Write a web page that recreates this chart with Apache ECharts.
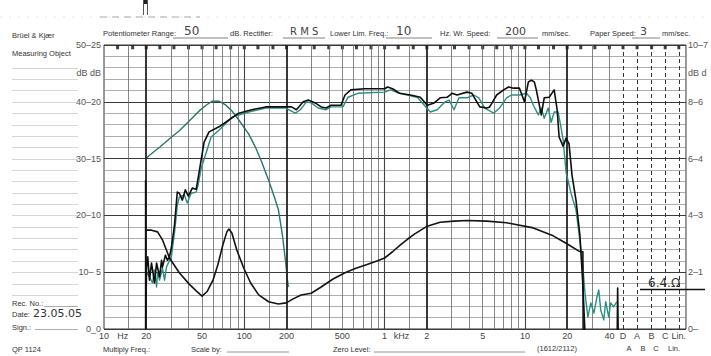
<!DOCTYPE html>
<html><head><meta charset="utf-8">
<script src="https://cdn.jsdelivr.net/npm/echarts@6/dist/echarts.min.js"></script>
<style>html,body{margin:0;padding:0;background:#fff;}#c{width:711px;height:356px;}</style>
</head><body><div id="c"></div>
<script>
// ---------- data (frequency in Hz, level in dB) ----------
const responseBlackHz = [19.8,19.8,20.1,20.5,21.1,21.8,22.2,22.9,23.7,24.9,25.7,26.1,27.4,28.3,29.3,30.2,31.8,33.3,34.4,36.2,38.0,39.9,42.6,45.4,46.9,49.3,51.7,56.1,66,77.7,91.4,113,142,197,217,235,263,286,320,353,383,415,489,522,575,722,1000,1050,1139,1276,1527,1797,2013,2257,2488,2787,3025,3281,3861,4187,4542,4770,5346,5610,6291,7047,7645,8293,9142,9920,10590,11120,11670,12060,13080,13730,14890,16160,16970,17530,18710,19650,20630,21660,23120,24660,25900,26770,33600,45500,45800,46200];
const responseBlackDb = [26.2,0,10.9,12.7,8.6,11.6,10.4,8.1,11.6,9.2,12.1,10.9,13.0,12.1,12.7,14.3,18.3,24.1,23.9,22.7,24.5,23.4,24.8,24.6,26.6,29.8,32.9,34.7,35.6,36.8,38.0,38.6,39.1,39.1,39.1,38.6,40.0,40.3,39.8,39.1,38.9,39.4,39.4,41.2,42.1,42.3,42.3,42.6,42.3,41.5,41.2,40.8,39.4,39.8,40.7,40.8,41.5,41.2,41.7,41.5,40.0,39.1,38.9,39.1,41.2,42.1,42.6,42.4,42.4,40.0,43.5,43.8,43.5,42.1,37.7,40.7,40.8,42.1,38.6,33.8,32.2,33.6,32.6,27.1,22.7,16.5,7.7,-0.5,-0.5,-0.5,7.2,-0.5];

const responseTealHz = [20.1,21.1,22.2,22.9,23.7,24.1,24.9,26.1,27.0,27.9,29.3,30.2,31.8,33.3,34.4,37.4,39.2,41.8,45.4,46.9,49.3,53.4,58.0,66.0,81.6,107.6,142,197,231,251,277,300,336,383,415,505,548,645,1000,1103,1276,1711,2115,2370,2700,2880,3124,3390,3861,4325,4690,5175,5985,6606,7400,8027,9142,10250,10940,11480,12460,13080,13730,14660,15390,16160,17250,18110,18710,19650,21320,22010,23120,24270,25900,26770,28100,29510,31000,32540,33610,34730,36470,37670,39550,40850,42900,45060];
const responseTealDb = [9.9,9.2,8.1,10.4,7.4,9.9,8.6,10.7,8.6,10.9,12.1,12.7,16.9,21.8,23.2,23.6,22.2,23.9,24.1,25.4,28.3,31.0,33.8,35.0,37.3,38.2,38.9,38.9,38.0,38.6,40.0,39.8,38.9,38.6,39.1,39.1,40.8,41.5,41.7,42.1,41.5,40.8,38.2,38.6,40.0,40.3,38.6,40.7,40.7,41.2,40.7,38.9,38.0,38.9,40.7,41.2,41.2,41.5,40.7,39.4,37.7,38.9,37.1,38.9,36.4,38.2,38.2,35.4,33.3,27.6,23.9,22.7,21.0,16.9,10.9,6.5,2.1,4.6,2.8,5.5,6.9,3.3,1.6,4.8,2.1,4.6,3.9,4.8];

const bassTealHz = [20.1,21.1,24.9,29.3,34.4,40.5,47.7,53.4,58.9,66.0,74.0,81.6,91.4,107.6,120.6,133,149,164,175,187,197,203,206];
const bassTealDb = [30.1,30.6,32.0,33.5,34.9,36.6,38.4,39.4,40.1,40.1,39.4,38.4,36.8,34.3,31.9,29.4,26.2,23.2,21.0,16.5,11.8,8.6,7.4];

const impedanceHz = [19.8,21.8,24.1,26.1,29.3,34.4,40.5,45.4,50,54.3,59.8,64.8,70.3,75.1,77.7,81.5,88.4,99.2,111,126.6,149,175,199,223,254,300,353,429,522,624,759,892,1000,1139,1297,1454,1630,2013,2488,3124,3861,5346,7400,11480,15900,19650,24270,25900,26000,33600];
const impedanceDb = [17.4,17.4,17.1,15.7,12.5,9.9,7.9,6.7,5.8,6.6,8.6,11.3,14.8,17.1,17.6,16.9,13.9,10.7,8.1,6.0,4.8,4.4,4.6,5.3,6.0,6.3,7.4,8.8,9.9,10.7,11.4,12.0,12.5,13.6,14.8,15.8,16.7,18.1,18.8,19.0,19.1,19.0,18.7,17.8,16.4,15.1,13.7,13.6,-0.5,-0.5];

// ---------- paper / axis furniture ----------
const thirdOctaveHz = [12.5,16,20,25,31.5,40,50,63,80,100,125,160,200,250,315,400,500,630,800,1000,1250,1600,2000,2500,3150,4000,5000,6300,8000,10000,12500,16000,20000,25000,31500,40000,50000,63000,80000,100000,125000];
const lightGridHz = [15,30,40,50,60,70,80,90,150,300,400,500,600,700,800,900,1500,3000,4000,5000,6000,7000,8000,9000,15000,30000,40000];
const mediumGridHz = [100,1000,10000];
const heavyGridHz = [20,200,2000,20000];
const weightingGridHz = [50000,63000,80000,100000,125000];
const freqTickHz = [10,13.6,20,50,100,200,500,1000,1320,2000,5000,10000,20000,40000,50000,63000,80000,100000,125000];
const freqTickText = ['10','Hz','20','50','100','200','500','1','kHz','2','5','10','20','40','D','A','B','C','Lin.'];
const levelTickDb = [0,10,20,30,40,45,50];
const leftTickText = ['0_0','10– 5','20–10','30–15','40–20','dB dB','50–25'];
const rightTickText = ['0–','2–1','4–3','6–4','8–6','dB d','10–7'];
const formLineDb = [6,8,10,12,14,16,18,20,22,24,26,28,30,32,34,36,38,40,42,44,46];

const FONT = '"Liberation Sans", Arial, sans-serif';
const HAND = '"DejaVu Sans", sans-serif';

function vline(f, color, width, dash) {
  return {xAxis: f, lineStyle: {color: color, width: width, type: dash || 'solid'}};
}
const gridLines = []
  .concat(lightGridHz.map(f => vline(f, '#666', 0.8)))
  .concat(mediumGridHz.map(f => vline(f, '#444', 1.1)))
  .concat(heavyGridHz.map(f => vline(f, '#222', 1.8)))
  .concat(weightingGridHz.map(f => vline(f, '#333', 1, [4, 3])));

function lineSeries(name, xs, ys, color, width, z) {
  return {
    name: name, type: 'line', data: xs.map((x, i) => [x, ys[i]]),
    showSymbol: false, symbol: 'none', smooth: false, clip: true, z: z,
    lineStyle: {color: color, width: width, join: 'round'}, silent: true, animation: false
  };
}

const chart = echarts.init(document.getElementById('c'), null, {renderer: 'svg'});
const option = {
  animation: false,
  backgroundColor: '#ffffff',
  grid: {left: 104, top: 45, width: 587, height: 284, show: true, borderColor: '#333', borderWidth: 1, containLabel: false},
  xAxis: {
    type: 'log', logBase: 10, min: 10, max: 140600,
    axisLine: {show: false}, axisTick: {show: false}, axisLabel: {show: false},
    splitLine: {show: false}
  },
  yAxis: [{
    type: 'value', min: 0, max: 50, interval: 10,
    axisLine: {show: false}, axisTick: {show: false},
    axisLabel: {
      customValues: levelTickDb, margin: 3, fontSize: 9, color: '#555', fontFamily: FONT,
      formatter: v => leftTickText[levelTickDb.indexOf(v)]
    },
    splitLine: {show: true, lineStyle: {color: '#3a3a3a', width: 1.2}},
    minorTick: {show: false, splitNumber: 5},
    minorSplitLine: {show: true, lineStyle: {color: '#8a8a8a', width: 0.7}}
  }, {
    type: 'value', min: 0, max: 50, interval: 10, position: 'right',
    axisLine: {show: false}, axisTick: {show: false}, splitLine: {show: false},
    axisLabel: {
      customValues: levelTickDb, margin: 2, fontSize: 9, color: '#555', fontFamily: FONT,
      formatter: v => rightTickText[levelTickDb.indexOf(v)]
    }
  }],
  series: [
    {
      name: 'marks', type: 'scatter', data: thirdOctaveHz.map(f => [f, 49.6]),
      symbol: 'rect', symbolSize: [3, 4], itemStyle: {color: '#111'}, z: 2, silent: true,
      markLine: {silent: true, symbol: ['none', 'none'], label: {show: false}, animation: false, data: gridLines}
    },
    lineSeries('bass', bassTealHz, bassTealDb, '#26776b', 1.4, 4),
    lineSeries('responseTeal', responseTealHz, responseTealDb, '#2b8f80', 1.4, 5),
    lineSeries('impedance', impedanceHz, impedanceDb, '#141414', 1.6, 6),
    lineSeries('responseBlack', responseBlackHz, responseBlackDb, '#0e0e0e', 1.6, 7)
  ]
};
chart.setOption(option);

// ---------- text & form graphics (positions derived from the axes where relevant) ----------
function txt(x, y, s, o) {
  o = o || {};
  const al = o.align || 'left';
  return {type: 'text', x: x, y: y, silent: true, z: 100,
    style: {text: s, fill: o.fill || '#333', font: o.font || ('7.5px ' + FONT),
      align: al, textAlign: al, verticalAlign: 'middle', textVerticalAlign: 'middle'}};
}
function ln(x1, y1, x2, y2, o) {
  o = o || {};
  return {type: 'line', silent: true, z: 100, shape: {x1: x1, y1: y1, x2: x2, y2: y2},
    style: {stroke: o.stroke || '#777', lineWidth: o.w || 0.8, lineDash: o.dash || null}};
}
const els = [];
freqTickHz.forEach((f, i) => {
  const px = chart.convertToPixel({xAxisIndex: 0}, f);
  els.push(txt(px, 336, freqTickText[i], {align: 'center', font: '9px ' + FONT, fill: '#444'}));
});
formLineDb.forEach(v => {
  const py = Math.round(chart.convertToPixel({yAxisIndex: 0}, v)) + 0.5;
  els.push(ln(12, py, 78, py, {stroke: '#c4c4c4', w: 0.7}));
});
// header
els.push(txt(103, 33, 'Potentiometer Range:'));
els.push(ln(173, 38, 228, 38, {stroke: '#666'}));
els.push(txt(184, 31, '50', {font: '12px ' + HAND, fill: '#444'}));
els.push(txt(230, 33, 'dB. Rectifier:'));
els.push(ln(283, 38, 325, 38, {stroke: '#666'}));
els.push(txt(290, 31, 'R M S', {font: '10px ' + HAND, fill: '#444'}));
els.push(txt(330, 33, 'Lower Lim. Freq.:'));
els.push(ln(386, 38, 432, 38, {stroke: '#666'}));
els.push(txt(396, 31, '10', {font: '12px ' + HAND, fill: '#444'}));
els.push(txt(440, 33, 'Hz. Wr. Speed:'));
els.push(ln(497, 38, 538, 38, {stroke: '#666'}));
els.push(txt(505, 31, '200', {font: '11px ' + HAND, fill: '#444'}));
els.push(txt(542, 33, 'mm/sec.'));
els.push(txt(590, 33, 'Paper Speed:'));
els.push(ln(632, 38, 660, 38, {stroke: '#666'}));
els.push(txt(640, 31, '3', {font: '11px ' + HAND, fill: '#444'}));
els.push(txt(662, 33, 'mm/sec.'));
// left column
els.push(txt(12, 35, 'Brüel & Kjær'));
els.push(txt(12, 53, 'Measuring Object'));
els.push(txt(12, 303, 'Rec. No.:'));
els.push(ln(44, 306.5, 78, 306.5, {stroke: '#999'}));
els.push(txt(12, 314, 'Date:'));
els.push(txt(33, 313, '23.05.05', {font: '11px ' + HAND, fill: '#333'}));
els.push(txt(12, 327, 'Sign.:'));
els.push(ln(35, 329.5, 78, 329.5, {stroke: '#999'}));
els.push(txt(12, 349, 'QP 1124'));
// bottom
els.push(txt(103, 349, 'Multiply Freq.:'));
els.push(txt(191, 349, 'Scale by:'));
els.push(ln(227, 352, 289, 352, {stroke: '#777'}));
els.push(txt(333, 349, 'Zero Level:'));
els.push(ln(374, 352, 525, 352, {stroke: '#777'}));
els.push(txt(537, 348, '(1612/2112)'));
els.push(txt(629, 348, 'A', {align: 'center'}));
els.push(txt(643, 348, 'B', {align: 'center'}));
els.push(txt(656, 348, 'C', {align: 'center'}));
els.push(txt(668, 348, 'Lin.'));
// scan marks at top
els.push({type: 'rect', silent: true, z: 100, shape: {x: 143, y: 0, width: 5, height: 4}, style: {fill: '#222'}});
els.push(ln(143.5, 0, 143.5, 15, {stroke: '#555', w: 1}));
els.push(ln(147.5, 0, 147.5, 15, {stroke: '#555', w: 1}));
els.push(ln(0, 17, 711, 17, {stroke: '#ddd', w: 0.8, dash: [2, 7]}));
els.push(ln(100, 17, 200, 17, {stroke: '#aaa', w: 1, dash: [7, 5]}));
// handwritten annotation
els.push(txt(648, 283, '6.4.Ω', {font: '12px ' + HAND, fill: '#333'}));
els.push(ln(640, 289.5, 705, 289.5, {stroke: '#111', w: 1.6}));
chart.setOption({graphic: {elements: els}});
</script>
</body></html>
